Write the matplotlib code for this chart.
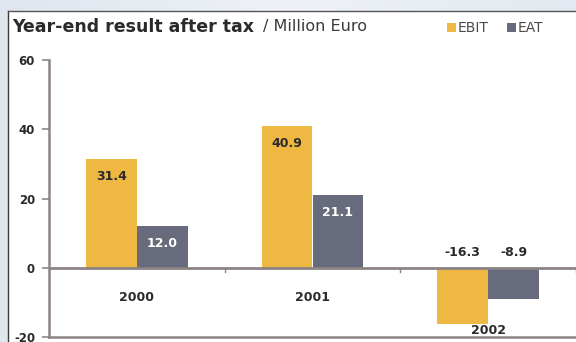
import matplotlib
matplotlib.use("Agg")
import matplotlib.pyplot as plt
from matplotlib.patches import Rectangle
from matplotlib.colors import LinearSegmentedColormap
import numpy as np

years = ["2000", "2001", "2002"]
ebit = [31.4, 40.9, -16.3]
eat = [12.0, 21.1, -8.9]
yticks = [-20, 0, 20, 40, 60]

C_EBIT = "#efb842"
C_EAT = "#676b7c"
AX_C = "#8c8484"
TXT = "#2a2a2a"

plt.rcParams['font.family'] = ['DejaVu Sans']

W, H = 576, 342
fig = plt.figure(figsize=(W / 100, H / 100), dpi=100)

# background gradient
bg = fig.add_axes([0, 0, 1, 1], zorder=-10)
grad = np.linspace(0, 1, 256).reshape(1, -1)
cm = LinearSegmentedColormap.from_list("bg", ["#dfe6ee", "#eef2f6", "#e3e9f0"])
bg.imshow(grad, aspect="auto", cmap=cm, extent=[0, 1, 0, 1])
bg.set_xlim(0, 1); bg.set_ylim(0, 1)
bg.axis("off")
px0, py0 = 8 / W, 1 - 11 / H
bg.add_patch(Rectangle((px0, 0), 1 - px0, py0, facecolor="white", edgecolor="none"))
bg.plot([px0, px0], [0, py0], color="#3a3a3a", lw=1.0)
bg.plot([px0, 1], [py0, py0], color="#555555", lw=1.0)

# title
t1 = fig.text(12 / W, 1 - 27 / H, "Year-end result after tax", fontsize=12.5, fontweight="bold",
              color=TXT, va="center", ha="left")
fig.canvas.draw()
bb = t1.get_window_extent()
fig.text((bb.x1 + 9) / W, 1 - 27 / H, "/ Million Euro", fontsize=11.5, color="#3a3a3a",
         va="center", ha="left")

# legend
for x0, c, lab in [(447, C_EBIT, "EBIT"), (507, C_EAT, "EAT")]:
    fig.patches.append(Rectangle((x0 / W, 1 - 32 / H), 9 / W, 9 / H, facecolor=c,
                                 edgecolor="none", transform=fig.transFigure, figure=fig))
    fig.text((x0 + 11) / W, 1 - 27.5 / H, lab, fontsize=10, color="#4a4a4a",
             va="center", ha="left")

# axes
left = 49 / W
bottom = 1 - 337 / H
top = 1 - 60 / H
ax = fig.add_axes([left, bottom, 1 - left, top - bottom])
ax.set_facecolor("none")
ax.set_xlim(0, 3)
ax.set_ylim(-20, 60)

x = np.arange(len(years)) + 0.5
bw = 0.29
ax.bar(x - bw / 2, ebit, bw, color=C_EBIT, zorder=2)
ax.bar(x + bw / 2, eat, bw, color=C_EAT, zorder=2)

for i in range(len(years)):
    for xi, v, col in [(x[i] - bw / 2, ebit[i], TXT), (x[i] + bw / 2, eat[i], "white")]:
        if v >= 0:
            ax.text(xi, v - 5, f"{v:.1f}", ha="center", va="center", fontsize=9,
                    fontweight="bold", color=col, zorder=3)
        else:
            ax.text(xi, 4.4, f"{v:.1f}", ha="center", va="center", fontsize=9,
                    fontweight="bold", color=TXT, zorder=3)

for i, lab in enumerate(years):
    mn = min(ebit[i], eat[i], 0)
    yl = -8.5 if mn >= 0 else mn - 1.9
    ax.text(x[i], yl, lab, ha="center", va="center", fontsize=9, fontweight="bold",
            color=TXT)

ax.axhline(0, color=AX_C, lw=2.0, zorder=4)
for b in [1, 2, 3]:
    ax.plot([b, b], [0, -1.2], color=AX_C, lw=1.0, zorder=4)

for s in ["top", "right"]:
    ax.spines[s].set_visible(False)
ax.spines["left"].set_color(AX_C)
ax.spines["left"].set_linewidth(1.8)
ax.spines["bottom"].set_color(AX_C)
ax.spines["bottom"].set_linewidth(1.8)
ax.set_xticks([])
ax.set_yticks(yticks)
ax.set_yticklabels([str(t) for t in yticks], fontsize=8.5, fontweight="bold", color=TXT)
ax.tick_params(axis="y", length=5, width=1.2, color=AX_C, pad=5)

fig.savefig("out.png", dpi=100)
